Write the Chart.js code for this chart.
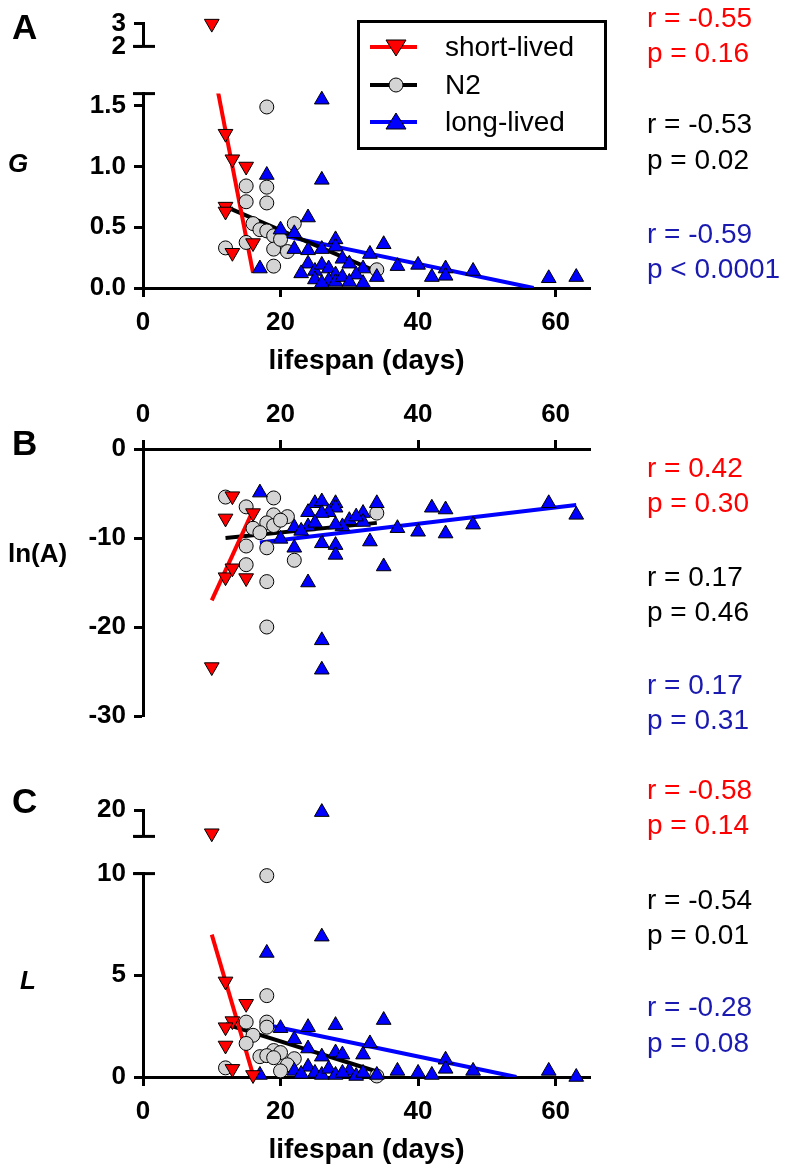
<!DOCTYPE html>
<html lang="en">
<head>
  <meta charset="UTF-8">
  <title>G, ln(A) and L against lifespan</title>
  <script src="https://cdn.jsdelivr.net/npm/chart.js"></script>
  <style>
    body {
      margin: 0;
      background: #fff;
      font-family: "Liberation Sans", Arial, sans-serif;
    }
    #fig {
      position: relative;
      width: 797px;
      height: 1176px;
      overflow: hidden;
    }
    .seg {
      position: absolute;
      left: 0;
      width: 797px;
    }
    .lbl {
      position: absolute;
      white-space: nowrap;
      line-height: 1;
      transform: translateY(-50%);
    }
    .panel { font-weight: bold; font-size: 35px; }
    .ytitle { font-weight: bold; font-size: 26px; }
    .stat { font-size: 28px; left: 647px; }
    .red { color: #ff0000; }
    .blk { color: #000; }
    .blu { color: #1a1ab0; }
    .legend {
      position: absolute;
      left: 357px;
      top: 20px;
      width: 244px;
      height: 124px;
      border: 3px solid #000;
    }
    .legend svg { position: absolute; left: 0; top: 0; }
    .legend span { position: absolute; left: 85px; font-size: 28px; line-height: 1; transform: translateY(-50%); }
  </style>
</head>
<body>
<div id="fig">
  <div class="seg" style="top:0px;height:70px"><canvas id="aTop"></canvas></div>
  <div class="seg" style="top:70px;height:330px"><canvas id="aMain"></canvas></div>
  <div class="seg" style="top:380px;height:360px"><canvas id="bMain"></canvas></div>
  <div class="seg" style="top:780px;height:80px"><canvas id="cTop"></canvas></div>
  <div class="seg" style="top:850px;height:326px"><canvas id="cMain"></canvas></div>

  <div class="lbl panel" style="left:12px;top:26px">A</div>
  <div class="lbl panel" style="left:12px;top:442px">B</div>
  <div class="lbl panel" style="left:12px;top:800px">C</div>

  <div class="lbl ytitle" style="left:8px;top:163px;font-style:italic">G</div>
  <div class="lbl ytitle" style="left:8px;top:553px">ln(A)</div>
  <div class="lbl ytitle" style="left:20px;top:980px;font-style:italic">L</div>

  <div class="legend">
    <svg width="244" height="124">
      <line x1="10" y1="24" x2="57" y2="24" stroke="#ff0000" stroke-width="4"/>
      <polygon points="26,17 46,17 36,33" fill="#ff0000" stroke="#000" stroke-width="1"/>
      <line x1="10" y1="62" x2="57" y2="62" stroke="#000" stroke-width="4"/>
      <circle cx="36" cy="62" r="7" fill="#d4d4d4" stroke="#000" stroke-width="1"/>
      <line x1="10" y1="99" x2="57" y2="99" stroke="#0000ff" stroke-width="4"/>
      <polygon points="26,106 46,106 36,90" fill="#0000ff" stroke="#000" stroke-width="1"/>
    </svg>
    <span style="top:24px">short-lived</span>
    <span style="top:62px">N2</span>
    <span style="top:99px">long-lived</span>
  </div>

  <div class="lbl stat red" style="top:18px">r = -0.55</div>
  <div class="lbl stat red" style="top:53px">p = 0.16</div>
  <div class="lbl stat blk" style="top:124px">r = -0.53</div>
  <div class="lbl stat blk" style="top:160px">p = 0.02</div>
  <div class="lbl stat blu" style="top:234px">r = -0.59</div>
  <div class="lbl stat blu" style="top:269px">p &lt; 0.0001</div>

  <div class="lbl stat red" style="top:468px">r = 0.42</div>
  <div class="lbl stat red" style="top:503px">p = 0.30</div>
  <div class="lbl stat blk" style="top:577px">r = 0.17</div>
  <div class="lbl stat blk" style="top:612px">p = 0.46</div>
  <div class="lbl stat blu" style="top:685px">r = 0.17</div>
  <div class="lbl stat blu" style="top:720px">p = 0.31</div>

  <div class="lbl stat red" style="top:790px">r = -0.58</div>
  <div class="lbl stat red" style="top:825px">p = 0.14</div>
  <div class="lbl stat blk" style="top:900px">r = -0.54</div>
  <div class="lbl stat blk" style="top:935px">p = 0.01</div>
  <div class="lbl stat blu" style="top:1007px">r = -0.28</div>
  <div class="lbl stat blu" style="top:1043px">p = 0.08</div>
</div>

<script>
  // x axis (lifespan, days)
  const xTicks = [0, 20, 40, 60];

  // panel A: G
  const aShortDays = [10, 12, 13, 15, 12, 12, 13, 16];
  const aShortG = [3.0, 1.27, 1.06, 1.0, 0.67, 0.63, 0.29, 0.37];
  const aN2Days = [18, 15, 18, 15, 18, 16, 17, 18, 19, 22, 12, 15, 19, 21, 19, 34, 20];
  const aN2G = [1.49, 0.84, 0.83, 0.71, 0.70, 0.53, 0.48, 0.47, 0.43, 0.53, 0.33, 0.375, 0.32, 0.30, 0.18, 0.15, 0.40];
  const aLongDays = [26, 18, 26, 24, 20, 22, 28, 28, 35, 33, 24, 26, 22, 17, 29, 30, 32, 24, 25, 26,
                     27, 28, 34, 37, 40, 44, 48, 42, 44, 59, 63, 25, 27, 28, 31, 26, 23, 29, 30, 32];
  const aLongG = [1.55, 0.93, 0.89, 0.58, 0.48, 0.45, 0.40, 0.34, 0.36, 0.28, 0.31, 0.32, 0.32, 0.16, 0.24, 0.20, 0.16, 0.20, 0.14, 0.19,
                  0.16, 0.11, 0.09, 0.18, 0.19, 0.16, 0.14, 0.09, 0.10, 0.08, 0.09, 0.07, 0.06, 0.05, 0.11, 0.04, 0.12, 0.09, 0.05, 0.04];
  // regression lines (end points)
  const aShortFitX = [10, 16], aShortFitY = [1.88, 0.125];
  const aN2FitX = [12, 34], aN2FitY = [0.67, 0.135];
  const aLongFitX = [17, 56.8], aLongFitY = [0.47, 0];
  const aTopTicks = [2, 3], aTopLabels = ['2', '3'];
  const aTicks = [0, 0.5, 1, 1.5], aLabels = ['0.0', '0.5', '1.0', '1.5'];

  // panel B: ln(A)
  const bShortDays = [10, 13, 12, 16, 12, 13, 15];
  const bShortLnA = [-24.5, -5.3, -7.8, -7.2, -14.4, -13.4, -14.5];
  const bN2Days = [12, 15, 19, 19, 21, 18, 19, 16, 17, 15, 18, 22, 15, 18, 18, 34, 20];
  const bN2LnA = [-5.4, -6.5, -5.5, -7.4, -7.6, -8.3, -8.6, -8.9, -9.4, -10.9, -11.1, -12.5, -13.0, -14.9, -20.0, -7.2, -8.0];
  const bLongDays = [17, 25, 26, 28, 28, 24, 27, 26, 32, 32, 30, 29, 24, 22, 28, 20, 22, 26, 28, 28,
                     33, 35, 24, 34, 37, 40, 42, 44, 44, 48, 59, 63, 26, 26, 23, 25, 31];
  const bLongLnA = [-4.9, -6.1, -5.9, -6.1, -6.6, -7.1, -7.1, -7.2, -7.2, -8.2, -8.0, -8.7, -8.7, -8.8, -8.5, -10.1, -11.1, -10.6, -10.8, -11.9,
                    -10.4, -13.2, -15.0, -6.1, -8.9, -9.3, -6.6, -6.8, -9.5, -8.5, -6.1, -7.4, -21.5, -24.8, -9.2, -8.3, -7.6];
  const bShortFitX = [10, 16], bShortFitY = [-17.0, -6.9];
  const bN2FitX = [12, 34], bN2FitY = [-10.0, -8.3];
  const bLongFitX = [17, 63], bLongFitY = [-10.5, -6.3];
  const bTicks = [0, -10, -20, -30], bLabels = ['0', '-10', '-20', '-30'];

  // panel C: L
  const cShortDays = [10, 12, 15, 13, 12, 12, 13, 16];
  const cShortL = [15.6, 4.7, 3.6, 2.75, 2.45, 1.55, 0.4, 0.1];
  const cN2Days = [18, 18, 15, 18, 18, 16, 15, 19, 20, 17, 18, 19, 22, 12, 21, 20, 34];
  const cN2L = [9.9, 4.0, 2.7, 2.7, 2.45, 2.05, 1.65, 1.3, 1.2, 1.0, 1.05, 0.95, 0.9, 0.45, 0.6, 0.3, 0.05];
  const cLongDays = [26, 26, 18, 20, 24, 28, 35, 22, 33, 24, 28, 26, 29, 32, 44, 37, 40, 42, 44, 48,
                     59, 63, 17, 22, 24, 25, 26, 27, 28, 30, 31, 34, 23, 29, 32];
  const cLongL = [19.6, 6.9, 6.1, 2.4, 2.45, 2.55, 2.8, 1.85, 1.65, 1.4, 1.2, 1.0, 1.1, 1.1, 0.85, 0.3, 0.2, 0.1, 0.4, 0.3,
                  0.3, 0.0, 0.1, 0.3, 0.5, 0.2, 0.1, 0.4, 0.1, 0.3, 0.05, 0.1, 0.15, 0.2, 0.2];
  const cShortFitX = [10, 16.1], cShortFitY = [7.0, 0];
  const cN2FitX = [12, 34], cN2FitY = [2.6, 0.27];
  const cLongFitX = [17, 54.3], cLongFitY = [2.63, 0];
  const cTopTicks = [15, 20], cTopLabels = ['', '20'];
  const cTicks = [0, 5, 10], cLabels = ['0', '5', '10'];

  const FONT = "'Liberation Sans', Arial, sans-serif";
  const RED = '#ff0000', BLUE = '#0000ff', GREY = '#d4d4d4';

  function pts(xs, ys, lo, hi) {
    return xs.map((x, i) => ({ x: x, y: ys[i] })).filter(p => p.y >= lo && p.y <= hi);
  }

  function markers(data, kind) {
    const s = {
      short: { pointStyle: 'triangle', pointRotation: 180, pointBackgroundColor: RED, pointRadius: 8.5 },
      n2: { pointStyle: 'circle', pointRotation: 0, pointBackgroundColor: GREY, pointRadius: 7 },
      long: { pointStyle: 'triangle', pointRotation: 0, pointBackgroundColor: BLUE, pointRadius: 8.5 }
    }[kind];
    return Object.assign({ data: data, showLine: false, pointBorderColor: '#000', pointBorderWidth: 1, clip: false }, s);
  }

  function fit(xs, ys, color) {
    return { data: pts(xs, ys, -1e9, 1e9), showLine: true, borderColor: color, borderWidth: 4,
             pointRadius: 0, clip: 0 };
  }

  // short end bar across the axis where a segment is broken
  const capPlugin = {
    id: 'caps',
    afterDraw(chart, args, opts) {
      const a = chart.chartArea, ctx = chart.ctx;
      ctx.save();
      ctx.strokeStyle = '#000';
      ctx.lineWidth = 3;
      (opts.at || []).forEach(side => {
        const y = side === 'top' ? a.top : a.bottom;
        ctx.beginPath();
        ctx.moveTo(a.left - 10, y);
        ctx.lineTo(a.left + 12, y);
        ctx.stroke();
      });
      ctx.restore();
    }
  };

  const tickFont = { family: FONT, size: 26, weight: 'bold' };
  const axisGrid = { display: true, drawOnChartArea: false, drawTicks: true, tickLength: 9, tickWidth: 3, tickColor: '#000' };
  const axisBorder = { display: true, color: '#000', width: 3 };

  function makeChart(id, cfg) {
    const x = {
      type: 'linear', min: 0, max: 65, display: cfg.xPos !== undefined,
      position: cfg.xPos || 'bottom',
      afterFit: s => { s.height = cfg.xHeight || 0; },
      afterBuildTicks: s => { s.ticks = xTicks.map(v => ({ value: v })); },
      border: axisBorder,
      grid: axisGrid,
      ticks: { color: '#000', font: tickFont, padding: 10, maxRotation: 0, autoSkip: false },
      title: {
        display: !!cfg.xTitle, text: 'lifespan (days)', color: '#000',
        font: { family: FONT, size: 28, weight: 'bold' },
        padding: { top: 0, bottom: cfg.titlePad || 0 }
      }
    };
    const y = {
      type: 'linear', min: cfg.yMin, max: cfg.yMax,
      afterFit: s => { s.width = 143; },
      afterBuildTicks: s => { s.ticks = cfg.yTicks.map(v => ({ value: v })); },
      border: axisBorder,
      grid: axisGrid,
      ticks: { color: '#000', font: tickFont, padding: 8, autoSkip: false,
               callback: (v, i) => cfg.yLabels[i] }
    };
    return new Chart(document.getElementById(id), {
      type: 'scatter',
      data: { datasets: cfg.sets },
      options: {
        responsive: true,
        maintainAspectRatio: false,
        animation: false,
        layout: { padding: Object.assign({ left: 0, right: 207, top: 0, bottom: 0 }, cfg.pad) },
        scales: { x: x, y: y },
        plugins: { legend: { display: false }, tooltip: { enabled: false }, caps: { at: cfg.caps || [] } }
      },
      plugins: [capPlugin]
    });
  }

  // Panel A, upper segment 2..3
  makeChart('aTop', {
    yMin: 2, yMax: 3, yTicks: aTopTicks, yLabels: aTopLabels, pad: { top: 22, bottom: 20 }, caps: ['bottom'],
    sets: [
      markers(pts(aShortDays, aShortG, 2, 3.5), 'short'),
      markers(pts(aLongDays, aLongG, 2, 3.5), 'long'),
      markers(pts(aN2Days, aN2G, 2, 3.5), 'n2')
    ]
  });

  // Panel A, lower segment 0..1.6
  makeChart('aMain', {
    yMin: 0, yMax: 1.6, yTicks: aTicks, yLabels: aLabels, pad: { top: 13 }, caps: ['top'],
    xPos: 'bottom', xHeight: 112, xTitle: true, titlePad: 22,
    sets: [
      markers(pts(aShortDays, aShortG, -1, 1.6), 'short'),
      markers(pts(aLongDays, aLongG, -1, 1.6), 'long'),
      markers(pts(aN2Days, aN2G, -1, 1.6), 'n2'),
      fit(aShortFitX, aShortFitY, RED),
      fit(aN2FitX, aN2FitY, '#000'),
      fit(aLongFitX, aLongFitY, BLUE)
    ]
  });

  // Panel B
  makeChart('bMain', {
    yMin: -30, yMax: 0, yTicks: bTicks, yLabels: bLabels, pad: { top: 0, bottom: 24 },
    xPos: 'top', xHeight: 69,
    sets: [
      markers(pts(bShortDays, bShortLnA, -40, 0), 'short'),
      markers(pts(bLongDays, bLongLnA, -40, 0), 'long'),
      markers(pts(bN2Days, bN2LnA, -40, 0), 'n2'),
      fit(bShortFitX, bShortFitY, RED),
      fit(bN2FitX, bN2FitY, '#000'),
      fit(bLongFitX, bLongFitY, BLUE)
    ]
  });

  // Panel C, upper segment 15..20
  makeChart('cTop', {
    yMin: 15, yMax: 20, yTicks: cTopTicks, yLabels: cTopLabels, pad: { top: 30, bottom: 22 }, caps: ['bottom'],
    sets: [
      markers(pts(cShortDays, cShortL, 15, 25), 'short'),
      markers(pts(cLongDays, cLongL, 15, 25), 'long'),
      markers(pts(cN2Days, cN2L, 15, 25), 'n2')
    ]
  });

  // Panel C, lower segment 0..10
  makeChart('cMain', {
    yMin: 0, yMax: 10, yTicks: cTicks, yLabels: cLabels, pad: { top: 23 }, caps: ['top'],
    xPos: 'bottom', xHeight: 99, xTitle: true, titlePad: 9,
    sets: [
      markers(pts(cShortDays, cShortL, -1, 10), 'short'),
      markers(pts(cLongDays, cLongL, -1, 10), 'long'),
      markers(pts(cN2Days, cN2L, -1, 10), 'n2'),
      fit(cShortFitX, cShortFitY, RED),
      fit(cN2FitX, cN2FitY, '#000'),
      fit(cLongFitX, cLongFitY, BLUE)
    ]
  });
</script>
</body>
</html>
